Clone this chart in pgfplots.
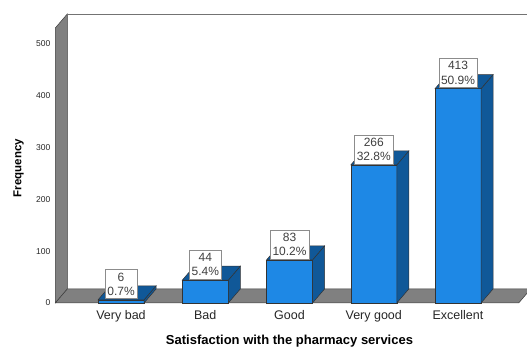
\documentclass[border=0pt]{standalone}
\usepackage{pgfplots}
\usepackage{pgfplotstable}
\pgfplotsset{compat=1.18}
\usepackage{fontspec}
\setmainfont{Liberation Sans}

\definecolor{barfront}{RGB}{30,136,229}
\definecolor{barside}{RGB}{16,88,152}
\definecolor{wallgray}{RGB}{128,128,128}
\definecolor{edgegray}{RGB}{60,60,60}

% Satisfaction counts and their shares
\pgfplotstableread{
cat val pct
0 6 0.7
1 44 5.4
2 83 10.2
3 266 32.8
4 413 50.9
}\satisfaction

% y unit (pt per count)
\def\yu{0.5189}

\begin{document}
\begin{tikzpicture}
\useasboundingbox (-55.3pt,-44pt) rectangle (471.7pt,303pt);
\begin{axis}[
  at={(0,0)}, anchor=south west,
  x=84.25pt, y=\yu pt,
  xmin=-0.78, xmax=4.72, ymin=0, ymax=530,
  clip=false,
  axis line style={draw=none},
  tick style={draw=none},
  xtick={0,...,4},
  xticklabels={Very bad,Bad,Good,Very good,Excellent},
  ytick={0,100,...,500},
  /pgf/number format/assume math mode=true,
  xticklabel style={font=\fontsize{12.5}{14}\selectfont, yshift=-4pt, text=black!85},
  yticklabel style={font=\fontsize{8.5}{9}\selectfont, xshift=-1.5pt, text=black!85},
  xlabel={Satisfaction with the pharmacy services},
  ylabel={Frequency},
  xlabel style={font=\bfseries\fontsize{13}{15}\selectfont, at={(axis cs:2,0)}, anchor=north, yshift=-29pt},
  ylabel style={font=\bfseries\fontsize{11.5}{13}\selectfont, at={(rel axis cs:0,0.49)}, anchor=south, yshift=28pt},
]
% left wall, floor and back wall outline
\filldraw[fill=wallgray, draw=edgegray, line width=0.5pt]
  (rel axis cs:0,0) -- (rel axis cs:0,1)
  -- ([shift={(12pt,14pt)}]rel axis cs:0,1)
  -- ([shift={(12pt,14pt)}]rel axis cs:0,0) -- cycle;
\filldraw[fill=wallgray, draw=edgegray, line width=0.5pt]
  (rel axis cs:0,0) -- (rel axis cs:1,0)
  -- ([shift={(12pt,14pt)}]rel axis cs:1,0)
  -- ([shift={(12pt,14pt)}]rel axis cs:0,0) -- cycle;
\draw[black!55, line width=0.7pt]
  ([shift={(12pt,14pt)}]rel axis cs:0,1) -- ([shift={(12pt,14pt)}]rel axis cs:1,1);

% 3D bars with value boxes, drawn at each data point
\addplot[
  scatter, only marks, mark=*, mark size=0.1pt,
  point meta=explicit symbolic,
  visualization depends on={rawy\as\barval},
  scatter/@pre marker code/.code={%
    \pgfmathsetmacro\h{\barval*\yu}%
    \filldraw[fill=barfront, draw=black!80, line width=0.5pt]
      (-23pt,-\h pt) rectangle (23pt,0pt);
    \filldraw[fill=barside, draw=black!80, line width=0.5pt]
      (23pt,-\h pt) -- (35pt,-\h pt+14pt) -- (35pt,14pt) -- (23pt,0pt) -- cycle;
    \filldraw[fill=barside, draw=black!80, line width=0.5pt]
      (-23pt,0pt) -- (-11pt,14pt) -- (35pt,14pt) -- (23pt,0pt) -- cycle;
    \node[draw=black!45, fill=white, align=center, anchor=south,
          inner xsep=2.2pt, inner ysep=3pt, font=\fontsize{12}{14.5}\selectfont, text=black!75]
      at (0pt,1pt)
      {\pgfmathprintnumber[assume math mode=true,fixed,precision=0]{\barval}\\
       \pgfmathprintnumber[assume math mode=true,fixed,fixed zerofill,precision=1]{\pgfplotspointmeta}\%};
    \scope[opacity=0]%
  },
  scatter/@post marker code/.code={\endscope},
] table[x=cat, y=val, meta=pct] {\satisfaction};
\end{axis}
\end{tikzpicture}
\end{document}
